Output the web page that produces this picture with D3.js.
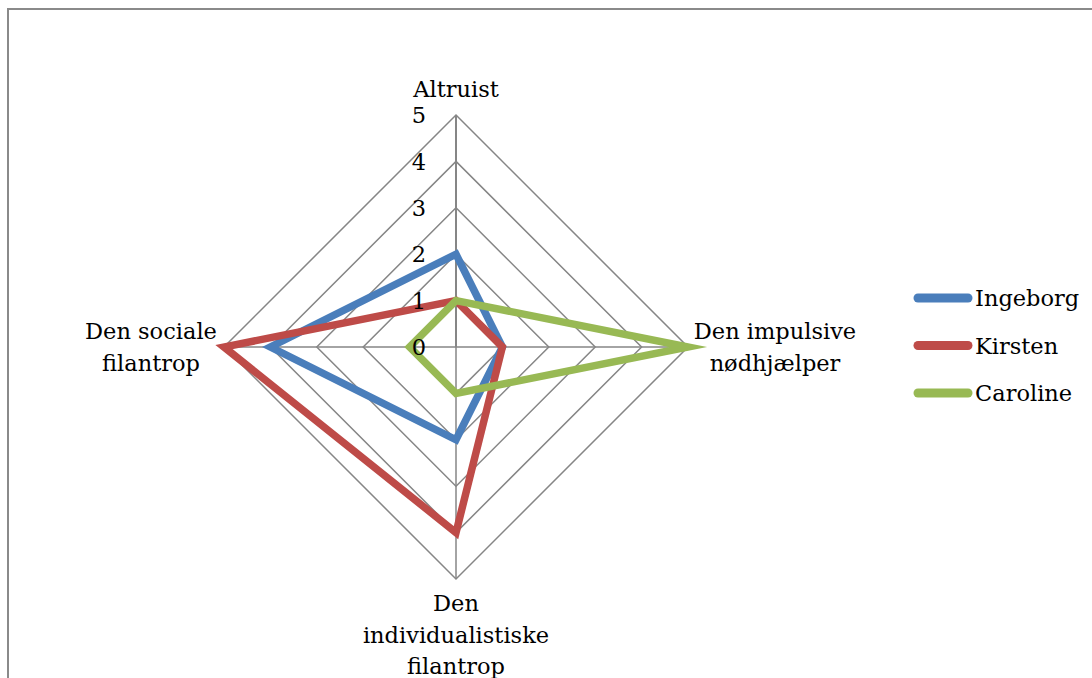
<!DOCTYPE html>
<html>
<head>
<meta charset="utf-8">
<script src="https://cdn.jsdelivr.net/npm/d3@7"></script>
<style>
  body { margin: 0; background: #fff; }
  text { font-family: "DejaVu Serif", "Liberation Serif", serif; fill: #000; }
</style>
</head>
<body>
<svg id="chart" width="1092" height="678"></svg>
<script>
// axes and values
const axes = [
  ["Altruist"],
  ["Den impulsive", "nødhjælper"],
  ["Den", "individualistiske", "filantrop"],
  ["Den sociale", "filantrop"]
];
const ticks = [0, 1, 2, 3, 4, 5];
const seriesNames = ["Ingeborg", "Kirsten", "Caroline"];
const ingeborg = [2, 1, 2, 4];
const kirsten = [1, 1, 4, 5];
const caroline = [1, 5, 1, 1];
const seriesValues = [ingeborg, kirsten, caroline];
const colors = ["#4A7EBB", "#BE4B48", "#98B954"];

const cx = 456, cy = 347, R = 232;
const fs = 22.5;

const svg = d3.select("#chart");

// frame
svg.append("rect")
  .attr("x", 8).attr("y", 9)
  .attr("width", 1200).attr("height", 800)
  .attr("fill", "none")
  .attr("stroke", "#8a8a8a")
  .attr("stroke-width", 2);

const r = d3.scaleLinear().domain([0, 5]).range([0, R]);
const angle = d3.scaleLinear().domain([0, axes.length]).range([0, 2 * Math.PI]);

function pt(i, v) {
  const a = angle(i);
  return [cx + r(v) * Math.sin(a), cy - r(v) * Math.cos(a)];
}

const g = svg.append("g");

// grid rings
ticks.filter(t => t > 0).forEach(t => {
  g.append("path")
    .attr("d", d3.line()(axes.map((d, i) => pt(i, t))) + "Z")
    .attr("fill", "none")
    .attr("stroke", "#868686")
    .attr("stroke-width", 1.5);
});

// spokes
axes.forEach((d, i) => {
  const p = pt(i, 5);
  g.append("line")
    .attr("x1", cx).attr("y1", cy)
    .attr("x2", p[0]).attr("y2", p[1])
    .attr("stroke", "#868686")
    .attr("stroke-width", i == 0 ? 2 : 1.5);
});

// series
seriesValues.forEach((vals, s) => {
  g.append("path")
    .attr("d", d3.line()(vals.map((v, i) => pt(i, v))) + "Z")
    .attr("fill", "none")
    .attr("stroke", colors[s])
    .attr("stroke-width", 7.5)
    .attr("stroke-linejoin", "miter")
    .attr("stroke-miterlimit", 10);
});

// tick labels (drawn on top of the series)
g.selectAll(".tick")
  .data(ticks)
  .enter()
  .append("text")
  .attr("x", cx - 30)
  .attr("y", d => cy - r(d))
  .attr("dy", "0.36em")
  .attr("text-anchor", "end")
  .style("font-size", fs + "px")
  .text(d => d);

// axis labels
const lh = 31.5;
axes.forEach((lines, i) => {
  const p = pt(i, 5);
  let x = p[0], y, anchor = "middle";
  if (i == 0) { y = p[1] - 18 - (lines.length - 1) * lh; }
  else if (i == 2) { y = p[1] + 32; }
  else {
    y = p[1] - (lines.length - 1) * lh / 2 + 8;
    if (i == 1) { x = p[0] + 9 + 78; }
    else { x = p[0] - 9 - 64; }
  }
  const t = svg.append("text")
    .attr("text-anchor", anchor)
    .style("font-size", fs + "px");
  lines.forEach((l, k) => {
    t.append("tspan").attr("x", x).attr("y", y + k * lh).text(l);
  });
});

// legend
const leg = svg.append("g");
seriesNames.forEach((n, s) => {
  const y = 298 + s * 47.5;
  leg.append("line")
    .attr("x1", 918).attr("x2", 968)
    .attr("y1", y).attr("y2", y)
    .attr("stroke", colors[s])
    .attr("stroke-width", 9)
    .attr("stroke-linecap", "round");
  leg.append("text")
    .attr("x", 975).attr("y", y)
    .attr("dy", "0.36em")
    .style("font-size", fs + "px")
    .text(n);
});
</script>
</body>
</html>
